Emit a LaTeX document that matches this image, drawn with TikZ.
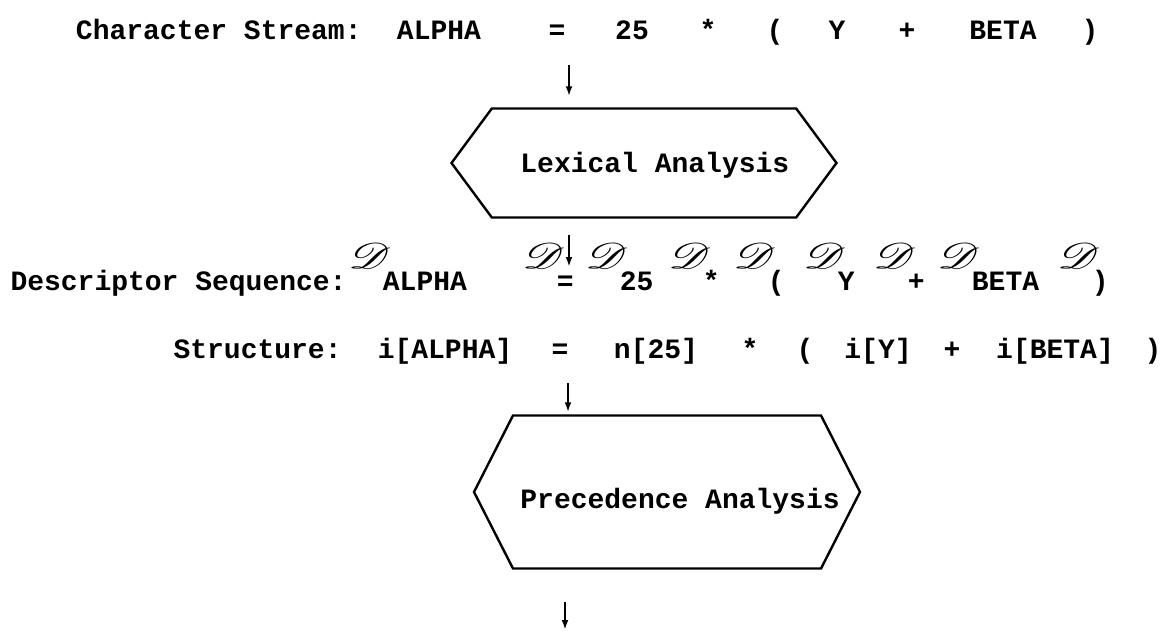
\documentclass[tikz,border=0pt]{standalone}
\usepackage{fontspec}
\setmainfont{Liberation Mono}
\usepackage{mathrsfs}
\usetikzlibrary{arrows.meta,positioning,calc,shapes.symbols}

% raised script D followed by its subscript
\newcommand{\dsc}[1]{\raisebox{11pt}{\scalebox{1.7}[1.25]{$\mathscr{D}$}}\kern-4pt#1}

\begin{document}
\begin{tikzpicture}[x=0.5pt, y=-0.5pt,
  font=\fontsize{14}{16}\selectfont\bfseries,
  w/.style={inner sep=0pt, anchor=base},
  hexa/.style={draw, line width=1.2pt, shape=signal, signal to=west and east, inner sep=0pt},
  arr/.style={-{Latex[length=5pt,width=3.4pt]}, line width=1pt}
]
\useasboundingbox (0,0) rectangle (1168,633);

% character stream
\node[w, anchor=base east] (cs) at (362,39) {Character Stream:};
\node[w] (cAlpha) at (439,39) {ALPHA};
\node[w] (cEq) at (557,39) {=};
\node[w] (c25) at (632,39) {25};
\node[w] (cStar) at (708,39) {*};
\node[w] (cLp) at (775,39) {(};
\node[w] (cY) at (837,39) {Y};
\node[w] (cPlus) at (907,39) {+};
\node[w] (cBeta) at (1003,39) {BETA};
\node[w] (cRp) at (1090,39) {)};

% lexical analysis
\node[hexa, minimum width=192.5pt, minimum height=54.5pt, signal pointer angle=107] (lex) at (644,163) {};
\node[w, anchor=base west] (lexT) at (520,172) {Lexical Analysis};

% descriptor sequence
\node[w, anchor=base east] (ds) at (347,290) {Descriptor Sequence:};
\node[w, anchor=base west] (dAlpha) at (348,290) {\dsc{ALPHA}};
\node[w, anchor=base west] (dEq) at (522,290) {\dsc{=}};
\node[w, anchor=base west] (d25) at (585,290) {\dsc{25}};
\node[w, anchor=base west] (dStar) at (668,290) {\dsc{*}};
\node[w, anchor=base west] (dLp) at (733,290) {\dsc{(}};
\node[w, anchor=base west] (dY) at (803,290) {\dsc{Y}};
\node[w, anchor=base west] (dPlus) at (873,290) {\dsc{+}};
\node[w, anchor=base west] (dBeta) at (937,290) {\dsc{BETA}};
\node[w, anchor=base west] (dRp) at (1057,290) {\dsc{)}};

% structure
\node[w, anchor=base east] (st) at (342,358) {Structure:};
\node[w] (sAlpha) at (445,358) {i[ALPHA]};
\node[w] (sEq) at (560,358) {=};
\node[w] (s25) at (656,358) {n[25]};
\node[w] (sStar) at (750,358) {*};
\node[w] (sLp) at (805,358) {(};
\node[w] (sY) at (878,358) {i[Y]};
\node[w] (sPlus) at (952,358) {+};
\node[w] (sBeta) at (1055,358) {i[BETA]};
\node[w] (sRp) at (1153,358) {)};

% precedence analysis
\node[hexa, minimum width=193pt, minimum height=76.5pt, signal pointer angle=126] (prec) at (667,492) {};
\node[w, anchor=base west] (precT) at (520,508) {Precedence Analysis};

% arrows
\coordinate (a1) at (569,65);
\coordinate (a2) at (569,267);
\coordinate (a3) at (568,383);
\coordinate (a4) at (565,630);
\draw[arr, shorten >=5.5pt] (a1) -- (a1 |- lex.north);
\draw[arr, shorten <=8pt] (a2 |- lex.south) -- (a2);
\draw[arr, shorten >=1pt] (a3) -- (a3 |- prec.north);
\draw[arr, shorten <=16pt] (a4 |- prec.south) -- (a4);
\end{tikzpicture}
\end{document}
